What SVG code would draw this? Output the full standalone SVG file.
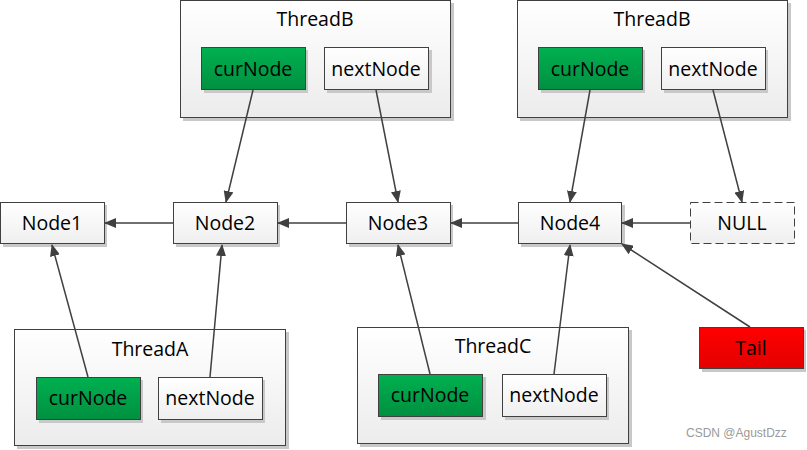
<svg xmlns="http://www.w3.org/2000/svg" width="807" height="450" viewBox="0 0 807 450">
<style>
text{font-family:"Open Sans","Noto Sans","Liberation Sans",sans-serif;font-size:19.5px;fill:#000;text-anchor:middle}
.box{fill:url(#gW);stroke:#404040;stroke-width:1}
.cont{fill:url(#gC);stroke:#404040;stroke-width:1}
.green{fill:url(#gG);stroke:#404040;stroke-width:1}
.red{fill:url(#gR);stroke:#404040;stroke-width:1}
.dash{fill:url(#gW);stroke:#404040;stroke-width:1;stroke-dasharray:8 4}
.sh{fill:#c8c8c8}
.edge{stroke:#404040;stroke-width:1.5;fill:none;marker-end:url(#arr)}
.wm{font-family:"Liberation Sans",sans-serif;font-size:12px;fill:#9a9a9a;text-anchor:start}
</style>
<defs>
<linearGradient id="gW" x1="0" y1="0" x2="0" y2="1"><stop offset="0" stop-color="#ffffff"/><stop offset="1" stop-color="#efefef"/></linearGradient>
<linearGradient id="gC" x1="0" y1="0" x2="0" y2="1"><stop offset="0" stop-color="#ffffff"/><stop offset="1" stop-color="#ececec"/></linearGradient>
<linearGradient id="gG" x1="0" y1="0" x2="0" y2="1"><stop offset="0" stop-color="#00b050"/><stop offset="1" stop-color="#009040"/></linearGradient>
<linearGradient id="gR" x1="0" y1="0" x2="0" y2="1"><stop offset="0" stop-color="#ff0000"/><stop offset="1" stop-color="#e40000"/></linearGradient>
<marker id="arr" viewBox="0 0 12 10" refX="11" refY="5" markerWidth="12" markerHeight="10" markerUnits="userSpaceOnUse" orient="auto"><path d="M0,0 L12,5 L0,10 Z" fill="#404040"/></marker>
</defs>

<g id="threadB1">
<rect class="sh" x="183" y="3" width="271" height="118"/>
<rect class="cont" x="180.5" y="0.5" width="270" height="117"/>
<text x="315" y="26">ThreadB</text>
<rect class="sh" x="204" y="50" width="104" height="43"/>
<rect class="green" x="201.5" y="47.5" width="104" height="42"/>
<text x="253" y="76">curNode</text>
<rect class="sh" x="327" y="50" width="105" height="43"/>
<rect class="box" x="324.5" y="47.5" width="104" height="42"/>
<text x="376" y="76">nextNode</text>
</g>

<g id="threadB2">
<rect class="sh" x="520" y="3" width="271" height="118"/>
<rect class="cont" x="517.5" y="0.5" width="270" height="117"/>
<text x="652" y="26">ThreadB</text>
<rect class="sh" x="541" y="50" width="104" height="43"/>
<rect class="green" x="538.5" y="47.5" width="104" height="42"/>
<text x="590" y="76">curNode</text>
<rect class="sh" x="664" y="50" width="104" height="43"/>
<rect class="box" x="661.5" y="47.5" width="104" height="42"/>
<text x="713" y="76">nextNode</text>
</g>

<g id="node1">
<rect class="sh" x="3" y="205" width="104" height="42"/>
<rect class="box" x="0.5" y="202.5" width="104" height="41"/>
<text x="52" y="230">Node1</text>
</g>
<g id="node2">
<rect class="sh" x="176" y="205" width="104" height="42"/>
<rect class="box" x="173.5" y="202.5" width="104" height="41"/>
<text x="225" y="230">Node2</text>
</g>
<g id="node3">
<rect class="sh" x="349" y="205" width="104" height="42"/>
<rect class="box" x="346.5" y="202.5" width="104" height="41"/>
<text x="398" y="230">Node3</text>
</g>
<g id="node4">
<rect class="sh" x="521" y="205" width="104" height="42"/>
<rect class="box" x="518.5" y="202.5" width="103" height="41"/>
<text x="570" y="230">Node4</text>
</g>
<g id="null">
<rect class="dash" x="690.5" y="202.5" width="104" height="41"/>
<text x="742" y="230">NULL</text>
</g>

<g id="threadA">
<rect class="sh" x="17" y="332" width="272" height="117"/>
<rect class="cont" x="14.5" y="329.5" width="271" height="116"/>
<text x="150" y="356">ThreadA</text>
<rect class="sh" x="39" y="380" width="104" height="43"/>
<rect class="green" x="36.5" y="377.5" width="104" height="42"/>
<text x="88" y="405">curNode</text>
<rect class="sh" x="161" y="380" width="104" height="43"/>
<rect class="box" x="158.5" y="377.5" width="104" height="42"/>
<text x="210" y="405">nextNode</text>
</g>

<g id="threadC">
<rect class="sh" x="360" y="330" width="272" height="117"/>
<rect class="cont" x="357.5" y="327.5" width="271" height="116"/>
<text x="493" y="353">ThreadC</text>
<rect class="sh" x="381" y="377" width="105" height="43"/>
<rect class="green" x="378.5" y="374.5" width="104" height="42"/>
<text x="430" y="402">curNode</text>
<rect class="sh" x="505" y="377" width="104" height="43"/>
<rect class="box" x="502.5" y="374.5" width="104" height="42"/>
<text x="554" y="402">nextNode</text>
</g>

<g id="tail">
<rect class="sh" x="702" y="330" width="104" height="42"/>
<rect class="red" x="699.5" y="327.5" width="104" height="41"/>
<text x="751" y="355">Tail</text>
</g>

<g id="connectors">
<line class="edge" x1="253" y1="90" x2="226" y2="202"/>
<line class="edge" x1="376" y1="90" x2="398" y2="202"/>
<line class="edge" x1="590" y1="90" x2="570" y2="202"/>
<line class="edge" x1="713" y1="90" x2="742" y2="202"/>
<line class="edge" x1="173" y1="223" x2="105" y2="223"/>
<line class="edge" x1="346" y1="223" x2="278" y2="223"/>
<line class="edge" x1="518" y1="223" x2="451" y2="223"/>
<line class="edge" x1="690" y1="223" x2="622" y2="223"/>
<line class="edge" x1="88" y1="377" x2="52" y2="245"/>
<line class="edge" x1="210" y1="377" x2="222" y2="245"/>
<line class="edge" x1="430" y1="374" x2="398" y2="245"/>
<line class="edge" x1="554" y1="374" x2="570" y2="245"/>
<line class="edge" x1="750" y1="327" x2="622" y2="244"/>
</g>

<text class="wm" x="686" y="437">CSDN @AgustDzz</text>
</svg>
